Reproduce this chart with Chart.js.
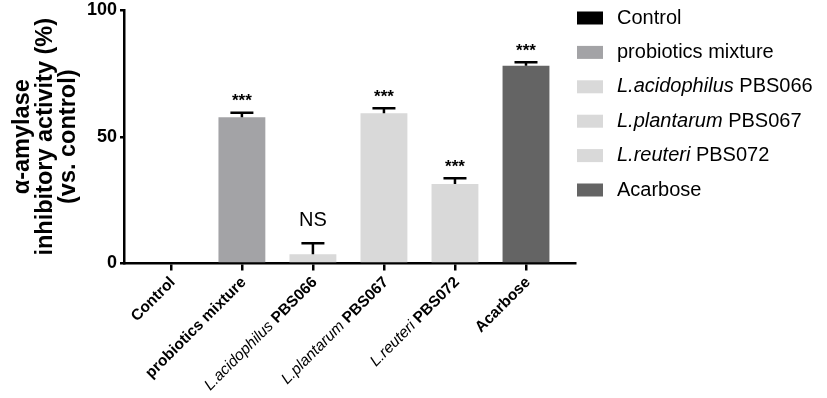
<!DOCTYPE html>
<html><head><meta charset="utf-8">
<script src="https://cdn.jsdelivr.net/npm/chart.js@4/dist/chart.umd.min.js"></script>
<style>html,body{margin:0;padding:0;background:#fff}#wrap{width:827px;height:398px;position:relative}</style>
</head><body><div id="wrap"><canvas id="c"></canvas></div>
<script>
// ---- data ----
const categories = ['Control', 'probiotics mixture', 'L.acidophilus PBS066', 'L.plantarum PBS067', 'L.reuteri PBS072', 'Acarbose'];
// label parts: [text, italic]
const labelParts = [
  [['Control', false]],
  [['probiotics mixture', false]],
  [['L.acidophilus', true], [' PBS066', false]],
  [['L.plantarum', true], [' PBS067', false]],
  [['L.reuteri', true], [' PBS072', false]],
  [['Acarbose', false]]
];
const values = [0, 57.7, 3.6, 59.3, 31.4, 78.0];
const errors = [0, 1.8, 4.4, 1.9, 2.2, 1.4];
const marks = ['', '***', 'NS', '***', '***', '***'];
const barColors = ['#000000', '#a3a3a6', '#d9d9d9', '#d9d9d9', '#d9d9d9', '#646464'];
const yTicks = [0, 50, 100];
const yTitle = ['α-amylase', 'inhibitory activity (%)', '(vs. control)'];

const FONT = '"Liberation Sans", Arial, sans-serif';

function drawParts(ctx, parts, x, y, boldNormal, size) {
  let total = 0;
  const fonts = parts.map(p => p[1] ? `italic ${size}px ${FONT}` : `${boldNormal ? 'bold ' : ''}${size}px ${FONT}`);
  parts.forEach((p, i) => { ctx.font = fonts[i]; total += ctx.measureText(p[0]).width; });
  let cx = x - total;
  ctx.textAlign = 'left';
  parts.forEach((p, i) => { ctx.font = fonts[i]; ctx.fillText(p[0], cx, y); cx += ctx.measureText(p[0]).width; });
}

const extras = {
  id: 'extras',
  afterDatasetsDraw(chart) {
    const ctx = chart.ctx;
    const ys = chart.scales.y;
    const meta = chart.getDatasetMeta(0);
    ctx.save();
    ctx.strokeStyle = '#000';
    ctx.fillStyle = '#000';
    ctx.lineWidth = 2.5;
    values.forEach((v, i) => {
      if (!errors[i]) return;
      const x = meta.data[i].x;
      const yBar = ys.getPixelForValue(v);
      const yTop = ys.getPixelForValue(v + errors[i]);
      ctx.beginPath();
      ctx.moveTo(x, yBar); ctx.lineTo(x, yTop);
      ctx.moveTo(x - 11.5, yTop); ctx.lineTo(x + 11.5, yTop);
      ctx.stroke();
      const m = marks[i];
      ctx.textAlign = 'center';
      ctx.textBaseline = 'alphabetic';
      if (m === 'NS') {
        ctx.font = `20px ${FONT}`;
        ctx.fillText(m, x, yTop - 17);
      } else if (m) {
        ctx.font = `bold 17px ${FONT}`;
        ctx.fillText(m, x, yTop - 6.5);
      }
    });
    ctx.restore();
  },
  afterDraw(chart) {
    const ctx = chart.ctx;
    const xs = chart.scales.x;
    ctx.save();
    ctx.fillStyle = '#000';
    ctx.textBaseline = 'middle';
    categories.forEach((c, i) => {
      const x = xs.getPixelForValue(i);
      ctx.save();
      ctx.translate(x + 2, 280);
      ctx.rotate(-Math.PI / 4);
      drawParts(ctx, labelParts[i], 0, 0, true, 15.5);
      ctx.restore();
    });
    const lx = 577, ly0 = 18, step = 34.4;
    categories.forEach((c, i) => {
      const y = ly0 + i * step;
      ctx.fillStyle = barColors[i];
      ctx.fillRect(lx, y - 6.5, 26, 13);
      ctx.fillStyle = '#000';
      ctx.textBaseline = 'middle';
      const parts = labelParts[i];
      const fonts = parts.map(p => p[1] ? `italic 20px ${FONT}` : `20px ${FONT}`);
      let cx = 617;
      ctx.textAlign = 'left';
      parts.forEach((p, k) => { ctx.font = fonts[k]; ctx.fillText(p[0], cx, y); cx += ctx.measureText(p[0]).width; });
    });
    ctx.restore();
  }
};

new Chart(document.getElementById('c'), {
  type: 'bar',
  data: {
    datasets: [{
      data: values.map((v, i) => ({ x: i, y: v })),
      backgroundColor: barColors,
      borderWidth: 0,
      barPercentage: 0.66,
      categoryPercentage: 1
    }]
  },
  options: {
    responsive: true,
    maintainAspectRatio: false,
    animation: false,
    layout: { padding: { top: 0, right: 252, bottom: 0, left: 0 } },
    plugins: { legend: { display: false }, tooltip: { enabled: false } },
    scales: {
      x: {
        type: 'linear',
        offset: false,
        min: -0.66,
        max: 5.69,
        afterBuildTicks: s => { s.ticks = categories.map((_, i) => ({ value: i })); },
        afterFit: s => { s.height = 134.5; s.paddingLeft = 0; s.paddingRight = 0; },
        ticks: { display: false },
        grid: { display: true, offset: false, drawOnChartArea: false, drawTicks: true, tickLength: 7, color: '#000', lineWidth: 2.5 },
        border: { display: true, color: '#000', width: 2.5 }
      },
      y: {
        min: 0,
        max: 100,
        afterBuildTicks: s => { s.ticks = yTicks.map(v => ({ value: v })); },
        afterFit: s => { s.width = 124; s.paddingTop = 10; s.paddingBottom = 0; },
        ticks: { color: '#000', font: { family: FONT, size: 18, weight: 'bold' }, padding: 3 },
        grid: { display: true, drawOnChartArea: false, drawTicks: true, tickLength: 4, color: '#000', lineWidth: 2.5 },
        border: { display: true, color: '#000', width: 2.5 },
        title: {
          display: true,
          text: yTitle,
          color: '#000',
          font: { family: FONT, size: 23.5, weight: 'bold', lineHeight: 0.98 },
          padding: { top: 11, bottom: 0 }
        }
      }
    }
  },
  plugins: [extras]
});
</script>
</body></html>
